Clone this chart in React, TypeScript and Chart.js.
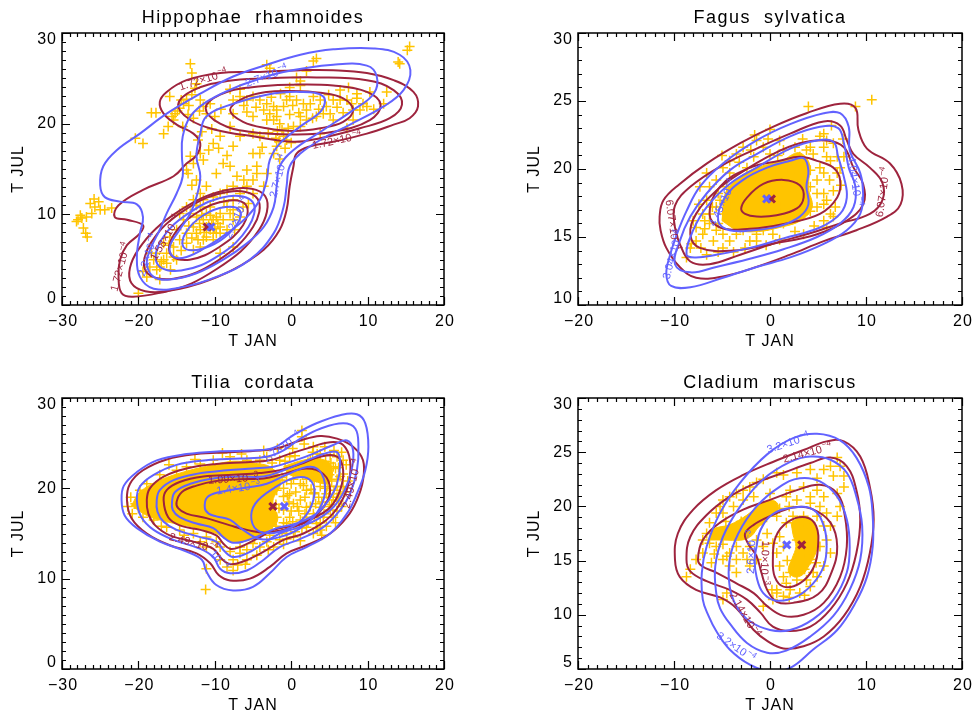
import { useEffect, useRef } from "react";
import { Chart, registerables } from "chart.js";

Chart.register(...registerables);

type Pt = [number, number];
type Tag = { text: string; exp: string; x: number; y: number; angle: number; blue: boolean };

const GOLD = "rgb(255,196,0)";
const BLUE = "rgb(98,98,255)";
const RED = "rgb(158,36,62)";
const FONT = "'Liberation Sans', 'DejaVu Sans', Arial, sans-serif";

// ---------------- Hippophae rhamnoides ----------------
const hippoObs: Pt[] = [
  [-27.9, 9.4], [-27.4, 9.6], [-26.8, 9.7], [-26.1, 10.1], [-25.7, 10.8], [-25.2, 11.4], [-25.0, 10.5], [-24.4, 10.5],
  [-23.5, 10.7], [-27.2, 8.5], [-26.9, 7.9], [-26.7, 7.5], [-26.3, 11.2], [-25.8, 11.7], [-27.6, 9.9], [-28.1, 9.2],
  [-20.4, 18.4], [-19.4, 17.8], [-18.3, 21.2], [-17.7, 21.2], [-15.9, 23.0], [-15.6, 20.8], [-15.2, 21.1], [-14.6, 21.7],
  [-14.1, 22.2], [-13.7, 22.7], [-13.0, 23.2], [-12.6, 23.9], [-12.4, 24.4], [-13.2, 26.6], [-13.0, 25.6], [-16.7, 18.9],
  [-16.1, 19.7], [-15.4, 20.4], [-14.2, 19.7], [-13.5, 21.0], [-11.5, 21.9], [-11.1, 21.1], [-11.9, 22.6], [-10.6, 22.2],
  [-11.7, 19.1], [-12.2, 18.2], [-13.2, 16.4], [-12.8, 15.6], [-11.9, 16.7], [-11.5, 16.0], [-10.8, 17.1], [-10.2, 17.8],
  [-9.3, 18.6], [-9.5, 17.3], [-8.4, 16.5], [-8.0, 15.3], [-7.6, 17.5], [-13.5, 14.5], [-12.4, 13.8], [-11.1, 13.1],
  [-9.8, 14.5], [-8.9, 15.6], [-13.7, 14.9], [-13.0, 13.2], [-14.9, 21.4], [-14.4, 22.6], [-13.4, 22.0], [-12.0, 21.4],
  [-12.8, 20.6], [-10.0, 20.8], [-9.2, 21.6], [-10.4, 19.4],
  [-7.6, 22.6], [-6.7, 23.0], [-5.8, 22.6], [-5.0, 23.0], [-4.1, 22.6], [-3.2, 22.2], [-2.3, 21.9], [-2.8, 21.1],
  [-1.9, 21.5], [-1.0, 21.9], [-0.6, 22.6], [-0.2, 23.0], [0.7, 22.6], [1.6, 22.2], [2.0, 21.5], [2.5, 22.2],
  [2.9, 23.0], [3.8, 22.6], [4.6, 21.9], [5.1, 21.1], [5.5, 22.6], [6.4, 22.6], [7.3, 22.6], [7.9, 22.2],
  [8.1, 21.5], [9.0, 21.5], [9.4, 22.2], [9.9, 21.9], [10.8, 21.6], [-2.3, 20.4], [-1.9, 20.8], [-1.5, 20.0],
  [-1.2, 19.3], [-1.0, 18.6], [-0.6, 18.2], [-1.6, 18.0], [-1.9, 17.5], [-0.8, 17.3], [-1.8, 19.2], [-3.2, 20.4],
  [-5.0, 18.9], [-4.1, 18.6], [-8.0, 19.7], [-6.7, 18.6], [-5.0, 16.7], [-4.1, 16.7], [-2.3, 16.7], [-1.5, 16.1],
  [2.0, 20.4], [3.3, 20.8], [4.2, 21.1], [5.5, 20.4], [7.3, 19.5], [8.1, 20.4], [1.2, 19.7], [0.3, 19.7],
  [-3.2, 26.5], [-2.8, 26.1], [0.7, 25.1], [1.2, 24.7], [2.0, 25.8], [2.9, 26.9], [3.3, 27.2], [-0.2, 24.0],
  [1.2, 24.2], [6.4, 23.7], [7.5, 24.0], [8.6, 23.3], [14.0, 26.8], [14.2, 26.6], [15.2, 28.1], [15.5, 28.5],
  [12.1, 22.2], [-8.0, 23.8], [-6.7, 23.8], [-5.0, 20.8], [-3.6, 21.5], [-5.8, 21.3], [-7.6, 21.1], [3.8, 18.9],
  [-0.2, 21.0], [1.2, 20.8], [12.5, 23.5], [10.3, 23.5], [-2.6, 22.9], [-1.4, 23.3], [0.2, 22.0], [1.0, 21.2],
  [2.8, 20.6], [3.6, 21.6], [4.9, 23.2], [6.0, 21.8], [6.8, 21.2], [8.6, 22.8], [-4.6, 21.8], [-6.2, 22.0],
  [-3.0, 19.0], [-2.0, 18.4], [0.0, 17.9], [-0.4, 19.5], [-3.8, 17.4],
  [-11.9, 10.8], [-11.1, 10.1], [-10.2, 9.4], [-9.3, 10.1], [-8.4, 10.8], [-7.6, 11.6], [-6.7, 12.3], [-5.8, 13.1],
  [-5.0, 13.8], [-4.5, 14.5], [-5.0, 12.3], [-6.3, 10.8], [-7.6, 9.4], [-8.4, 8.3], [-9.8, 7.9], [-11.1, 7.5],
  [-11.9, 8.3], [-12.8, 8.6], [-13.7, 7.9], [-14.6, 7.2], [-15.4, 6.4], [-16.3, 5.7], [-16.7, 5.0], [-17.2, 4.2],
  [-17.6, 3.9], [-16.3, 4.6], [-15.4, 5.3], [-13.7, 6.8], [-12.8, 6.1], [-11.9, 6.4], [-10.2, 7.2], [-9.3, 7.9],
  [-11.5, 9.4], [-10.6, 8.3], [-12.4, 9.7], [-13.2, 10.1], [-14.1, 9.4], [-15.0, 8.3], [-15.9, 7.5], [-16.7, 6.8],
  [-17.6, 5.7], [-18.0, 5.0], [-18.5, 4.2], [-19.4, 3.7], [-18.9, 3.1], [-20.0, 1.3], [-11.5, 11.6], [-10.2, 11.9],
  [-9.3, 12.3], [-8.4, 12.7], [-7.6, 13.1], [-7.1, 14.2], [-5.8, 14.9], [-4.5, 15.3], [-11.9, 12.3], [-12.8, 11.6],
  [-13.7, 10.8], [-14.6, 10.1], [-11.1, 8.6], [-10.2, 7.9], [-9.3, 8.6], [-8.0, 10.1], [-7.6, 10.5], [-12.4, 7.9],
  [-11.5, 7.2], [-13.0, 7.4], [-9.8, 9.7], [-8.9, 9.4], [-7.4, 8.3], [-6.7, 9.7], [-5.6, 11.2], [-3.6, 13.1],
  [-3.2, 14.5], [-9.3, 5.7], [-7.6, 6.4], [-15.0, 5.0], [-17.2, 2.8], [-18.3, 5.7], [-10.8, 8.8], [-10.4, 9.0],
  [-11.4, 8.0], [-10.0, 8.4], [-12.0, 9.0], [-9.6, 9.0], [-10.6, 9.9], [-11.7, 9.9], [-12.2, 7.2], [-13.4, 8.7],
  [-14.4, 6.0], [-16.0, 6.6], [-17.0, 4.8], [-15.8, 3.9], [-8.8, 11.4], [-10.6, 10.8], [-12.4, 11.0], [-6.2, 13.8],
];
const hippoDense: Pt[][] = [];
const hippoBlue: Pt[][] = [
  [[-25.0, 13.2], [-24.4, 11.9], [-22.4, 11.4], [-20.2, 11.1], [-19.4, 9.7], [-19.8, 7.9], [-20.2, 5.3], [-19.8, 3.1],
   [-18.0, 1.8], [-14.1, 2.0], [-9.8, 3.1], [-5.4, 5.0], [-2.3, 7.9], [-1.0, 10.8], [-0.6, 13.1], [-0.2, 15.3],
   [1.2, 16.7], [3.8, 18.2], [7.7, 19.9], [12.1, 21.9], [14.7, 23.7], [15.6, 25.9], [14.2, 27.6], [10.8, 28.3],
   [5.5, 28.2], [1.2, 27.6], [-3.2, 26.5], [-7.6, 25.2], [-11.9, 23.3], [-16.3, 21.1], [-19.8, 18.9], [-22.8, 17.1],
   [-24.6, 15.3]],
  [[-7.6, 23.9], [-5.4, 24.6], [-1.0, 25.7], [5.5, 26.5], [9.9, 26.4], [11.2, 25.2], [10.8, 23.3], [8.1, 21.5],
   [4.2, 19.3], [0.3, 17.1], [-1.5, 15.3], [-1.9, 13.1], [-2.3, 10.8], [-3.6, 8.6], [-5.8, 6.8], [-8.9, 5.0],
   [-12.4, 3.5], [-15.9, 2.8], [-18.0, 3.1], [-18.9, 4.6], [-18.3, 6.4], [-17.2, 8.3], [-16.3, 10.1], [-15.0, 12.3],
   [-14.2, 14.2], [-14.3, 16.4], [-14.2, 18.6], [-13.2, 20.8], [-11.1, 22.4]],
  [[-11.9, 18.9], [-11.1, 20.8], [-7.6, 22.2], [-3.2, 23.2], [1.2, 23.5], [4.2, 23.0], [4.0, 21.5], [1.2, 19.7],
   [-1.5, 17.8], [-2.8, 16.0], [-3.2, 13.8], [-4.1, 11.6], [-5.8, 9.7], [-8.4, 7.9], [-11.1, 6.4], [-13.7, 5.3],
   [-15.4, 5.3], [-15.9, 6.4], [-14.6, 8.3], [-13.2, 10.1], [-12.4, 11.9], [-11.9, 14.2], [-12.4, 16.4]],
  [[-6.7, 10.4], [-7.1, 8.9], [-9.3, 7.1], [-12.2, 6.1], [-14.1, 6.4], [-13.8, 8.0], [-11.5, 9.9], [-8.6, 10.8]],
  [[-5.0, 11.3], [-5.6, 8.6], [-9.4, 5.5], [-14.4, 3.8], [-17.5, 4.5], [-17.0, 7.2], [-13.1, 10.3], [-8.2, 12.0]],
];
const hippoRed: Pt[][] = [
  [[-17.2, 22.4], [-16.3, 23.5], [-13.7, 24.8], [-9.3, 25.6], [-4.1, 25.7], [1.2, 25.9], [5.5, 25.9], [9.9, 25.6],
   [13.4, 24.8], [16.0, 23.5], [16.6, 21.9], [15.5, 20.6], [13.4, 19.9], [9.9, 18.9], [5.5, 18.0], [2.5, 17.5],
   [0.7, 16.7], [0.3, 15.3], [-0.2, 13.1], [-0.6, 10.5], [-1.5, 8.3], [-3.6, 6.1], [-7.6, 3.9], [-11.9, 2.4],
   [-16.3, 1.5], [-20.7, 0.9], [-22.2, 1.3], [-22.6, 3.1], [-22.4, 5.0], [-21.5, 6.6], [-19.8, 7.9], [-19.4, 8.8],
   [-21.5, 9.4], [-23.1, 9.7], [-22.6, 11.0], [-19.4, 12.7], [-15.4, 14.2], [-13.7, 15.6], [-12.4, 16.5], [-11.9, 17.8],
   [-12.8, 18.9], [-15.0, 19.9], [-16.7, 21.1]],
  [[-14.8, 22.1], [-12.8, 23.7], [-8.4, 24.7], [-3.2, 25.0], [3.3, 25.1], [9.9, 24.8], [13.4, 23.7], [14.5, 22.1],
   [12.9, 20.6], [9.0, 19.5], [3.8, 18.4], [0.3, 18.0], [-5.0, 18.6], [-9.8, 19.3], [-13.2, 20.4]],
  [[-11.2, 21.7], [-9.3, 23.2], [-5.4, 24.0], [0.3, 24.3], [5.5, 24.2], [9.9, 23.5], [11.7, 22.1], [10.3, 20.4],
   [5.5, 19.1], [0.3, 18.8], [-5.4, 19.1], [-9.3, 20.0]],
  [[-8.0, 21.5], [-6.3, 22.8], [-3.2, 23.5], [0.3, 23.6], [3.8, 23.4], [6.8, 22.8], [8.1, 21.5], [6.8, 20.2],
   [3.8, 19.5], [0.3, 19.2], [-3.2, 19.5], [-6.3, 20.2]],
  [[-5.9, 11.0], [-6.3, 8.8], [-9.4, 6.4], [-13.3, 5.0], [-15.8, 5.6], [-15.4, 7.7], [-12.3, 10.2], [-8.4, 11.5]],
  [[-4.4, 11.7], [-5.0, 8.6], [-9.6, 4.9], [-15.4, 2.9], [-19.0, 3.7], [-18.4, 6.8], [-13.9, 10.5], [-8.1, 12.5]],
  [[-3.4, 12.0], [-4.2, 8.3], [-9.7, 4.0], [-16.6, 1.5], [-20.9, 2.4], [-20.1, 6.0], [-14.6, 10.4], [-7.7, 12.8]],
];
const hippoMeanBlue: Pt = [-10.5, 8.6];
const hippoMeanRed: Pt = [-11.0, 8.6];
const hippoTags: Tag[] = [
  { text: "1.72×10", exp: "−4", x: -11.5, y: 24.8, angle: -17, blue: false },
  { text: "2.7×10", exp: "−4", x: -3.2, y: 25.2, angle: -20, blue: true },
  { text: "1.72×10", exp: "−4", x: 6.0, y: 18.1, angle: -12, blue: false },
  { text: "1.72×10", exp: "−4", x: -22.3, y: 4.2, angle: -75, blue: false },
  { text: "2.2×10", exp: "−4", x: -18.7, y: 5.5, angle: -72, blue: true },
  { text: "1.58×10", exp: "−4", x: -16.4, y: 7.4, angle: -60, blue: false },
  { text: "2.7×10", exp: "−4", x: -1.6, y: 14.2, angle: -75, blue: true },
  { text: "2.2×10", exp: "−4", x: -7.1, y: 9.6, angle: -65, blue: true },
];

// ---------------- Fagus sylvatica ----------------
const fagusObs: Pt[] = [
  [4.0, 24.6], [8.9, 24.6], [10.6, 25.1], [-1.6, 22.5], [-1.4, 22.1], [-0.7, 21.6], [-2.8, 21.6], [-3.5, 21.1],
  [-4.2, 20.6], [-4.9, 20.1], [-4.2, 19.7], [-5.6, 19.2], [-6.3, 18.7], [-6.6, 17.7], [-7.0, 16.7], [-7.7, 15.7],
  [-8.3, 14.2], [-8.7, 13.5], [-8.2, 14.5], [-7.0, 15.2], [-6.3, 16.0], [-5.6, 15.5], [-4.9, 15.2], [-4.2, 14.7],
  [-3.5, 15.2], [-2.8, 15.5], [-2.1, 14.7], [-1.4, 15.2], [-0.7, 15.5], [0.0, 16.0], [0.7, 16.2], [1.4, 16.0],
  [2.1, 16.5], [2.8, 16.5], [3.5, 16.7], [4.2, 16.9], [4.9, 17.2], [5.6, 17.4], [5.9, 17.7], [6.3, 16.7],
  [5.6, 16.2], [4.9, 18.2], [4.2, 18.7], [4.9, 19.2], [5.6, 19.7], [5.2, 20.1], [4.5, 21.1], [3.8, 21.4],
  [3.1, 20.9], [2.1, 20.6], [1.4, 20.1], [0.7, 19.7], [5.2, 22.4], [5.6, 22.6], [5.9, 22.1], [6.6, 21.9],
  [5.9, 20.9], [6.3, 20.6], [7.0, 20.9], [7.0, 19.7], [2.1, 18.7], [2.8, 18.2], [1.4, 17.7], [-2.4, 20.1],
  [-1.7, 20.9], [0.0, 21.1], [-2.1, 18.7], [-2.8, 17.7], [-4.2, 17.2], [-4.9, 16.7], [-3.5, 16.7], [-3.1, 15.7],
  [1.0, 17.2], [2.1, 19.2], [3.1, 19.7], [4.2, 19.9], [1.7, 20.1], [-4.5, 18.7], [-5.2, 17.7], [-3.8, 17.9],
  [-6.3, 16.7], [-5.6, 17.2], [-7.7, 14.7], [7.7, 20.9], [7.3, 20.1], [0.0, 22.9], [1.0, 22.1], [1.4, 21.4],
  [-1.4, 14.7], [0.3, 15.2], [6.6, 16.5], [5.9, 15.7], [3.5, 15.2], [-5.9, 14.7], [-6.6, 13.7], [-4.9, 14.2],
  [-2.8, 16.2], [-1.4, 16.7], [4.2, 21.6], [5.6, 21.6], [-0.7, 20.1], [-6.6, 19.7], [-7.3, 18.7], [-1.4, 19.2],
  [3.8, 17.7], [5.6, 18.2], [-5.4, 18.2], [-6.0, 17.2], [-6.8, 16.2], [-5.4, 16.0], [-7.4, 17.4], [-3.2, 20.5],
  [-2.0, 21.4], [-0.2, 22.2], [0.8, 21.0], [2.6, 21.6], [3.4, 22.2], [6.2, 19.2], [6.6, 18.4], [7.4, 18.8],
  [4.6, 15.8], [2.6, 15.4], [1.0, 14.8], [-0.4, 14.4], [-2.6, 14.2], [-6.8, 15.6], [-7.2, 14.2], [-5.4, 13.9],
  [-3.8, 13.9], [-8.0, 16.2], [-5.0, 21.0], [6.8, 17.2], [7.6, 22.2], [6.4, 23.2],
];
const fagusDense: Pt[][] = [
  [[-5.0, 16.2], [-4.6, 18.3], [-2.8, 19.6], [-0.8, 20.2], [1.2, 20.6], [3.0, 21.2], [4.1, 20.4], [4.0, 18.6],
   [4.4, 17.2], [3.2, 16.2], [1.0, 15.7], [-1.2, 15.4], [-3.4, 15.5]],
];
const fagusBlue: Pt[][] = [
  [[-10.8, 12.3], [-10.4, 13.7], [-9.7, 15.2], [-8.7, 16.9], [-7.3, 18.7], [-4.9, 20.4], [-1.4, 22.1], [2.1, 23.3],
   [5.6, 24.1], [7.3, 24.1], [8.2, 23.1], [8.3, 21.4], [9.4, 19.7], [9.7, 18.2], [9.4, 16.7], [8.0, 15.5],
   [5.6, 14.5], [2.1, 13.5], [-1.4, 12.8], [-4.9, 12.0], [-8.3, 11.3], [-10.3, 11.4]],
  [[-9.9, 13.0], [-9.4, 14.7], [-8.3, 16.5], [-6.6, 18.2], [-4.2, 19.9], [-1.4, 21.1], [2.1, 22.4], [5.2, 23.1],
   [7.1, 23.0], [7.7, 21.9], [8.2, 20.1], [8.9, 18.7], [8.7, 17.2], [7.3, 16.0], [4.9, 15.0], [1.4, 14.1],
   [-2.1, 13.4], [-5.6, 12.8], [-8.3, 12.4]],
  [[-8.7, 13.7], [-8.0, 15.5], [-6.6, 17.2], [-4.2, 18.9], [-1.4, 20.1], [2.1, 21.5], [4.9, 22.1], [6.6, 22.0],
   [7.1, 20.9], [7.7, 19.4], [8.0, 17.9], [7.3, 16.7], [5.2, 15.7], [1.4, 14.9], [-2.1, 14.2], [-5.6, 13.7],
   [-7.7, 13.5]],
  [[-5.4, 16.2], [-4.7, 17.9], [-2.8, 19.2], [-0.3, 20.1], [2.1, 20.6], [3.5, 20.8], [4.0, 19.9], [3.8, 18.7],
   [4.0, 17.4], [3.1, 16.5], [1.0, 15.8], [-1.7, 15.5], [-4.2, 15.5]],
];
const fagusRed: Pt[][] = [
  [[-11.5, 16.5], [-11.1, 17.7], [-9.4, 18.9], [-6.6, 20.4], [-3.1, 21.9], [0.3, 23.1], [3.8, 24.1], [7.3, 24.8],
   [8.9, 24.5], [9.2, 22.9], [10.1, 21.5], [12.5, 20.4], [13.7, 18.9], [13.6, 17.4], [12.2, 16.5], [9.0, 15.5],
   [5.6, 14.7], [2.1, 13.7], [-1.4, 12.8], [-4.9, 12.1], [-7.7, 12.0], [-9.4, 12.8], [-10.8, 14.2], [-11.4, 15.5]],
  [[-9.9, 17.3], [-8.3, 18.7], [-4.9, 20.3], [-1.4, 21.5], [2.1, 22.6], [5.6, 23.5], [7.3, 23.2], [8.0, 22.1],
   [8.7, 21.1], [10.4, 20.1], [11.7, 19.0], [11.7, 17.7], [10.4, 16.7], [7.3, 16.0], [3.8, 15.2], [0.3, 14.5],
   [-3.1, 13.7], [-6.3, 13.0], [-8.3, 13.2], [-9.4, 14.5], [-9.9, 15.7]],
  [[-8.3, 15.2], [-7.7, 16.7], [-5.6, 18.4], [-3.1, 19.7], [0.3, 21.1], [3.1, 21.9], [5.9, 22.1], [7.7, 21.6],
   [8.7, 20.1], [9.7, 18.9], [9.7, 17.4], [8.0, 16.2], [4.9, 15.2], [0.3, 14.5], [-3.8, 14.0], [-7.3, 14.2]],
  [[-6.3, 16.7], [-5.2, 18.7], [-2.1, 20.1], [1.0, 20.6], [3.1, 20.9], [4.9, 20.6], [6.6, 20.1], [7.3, 19.2],
   [7.0, 17.9], [5.2, 16.7], [1.7, 16.0], [-2.1, 15.6], [-5.2, 15.7]],
  [[-3.0, 17.1], [-2.4, 17.9], [-0.7, 18.9], [1.4, 19.2], [3.1, 18.8], [3.5, 17.9], [2.8, 17.1], [0.7, 16.6],
   [-1.4, 16.5], [-2.6, 16.7]],
];
const fagusMeanBlue: Pt = [-0.35, 17.8];
const fagusMeanRed: Pt = [0.15, 17.8];
const fagusTags: Tag[] = [
  { text: "6.07×10", exp: "−4", x: -10.2, y: 15.9, angle: 82, blue: false },
  { text: "3.04×10", exp: "−4", x: -10.1, y: 13.7, angle: -75, blue: true },
  { text: "4.45×10", exp: "−4", x: -4.9, y: 17.5, angle: -65, blue: true },
  { text: "4.04×10", exp: "−4", x: 8.8, y: 19.1, angle: 82, blue: true },
  { text: "6.07×10", exp: "−4", x: 11.8, y: 18.3, angle: -82, blue: false },
];

// ---------------- Tilia cordata ----------------
const tiliaObs: Pt[] = [
  [1.4, 26.4], [1.4, 25.7], [2.9, 24.6], [3.8, 23.8], [5.1, 23.7], [6.0, 23.5], [6.8, 23.1], [5.5, 22.4],
  [4.6, 22.0], [3.8, 22.7], [2.5, 23.1], [1.2, 22.4], [0.3, 21.6], [-0.6, 20.9], [1.2, 20.5], [2.0, 19.8],
  [2.9, 19.4], [3.8, 20.2], [4.6, 19.4], [5.5, 18.7], [5.1, 17.6], [4.2, 16.8], [3.3, 16.1], [2.0, 15.7],
  [1.2, 16.5], [-0.2, 16.8], [-1.0, 17.6], [-1.9, 16.8], [-0.6, 16.1], [0.3, 18.3], [1.2, 18.7], [2.0, 17.9],
  [2.9, 17.2], [3.8, 17.9], [-0.2, 19.4], [-1.0, 19.1], [-1.9, 19.8], [-1.5, 20.9], [-2.3, 21.6], [6.4, 21.3],
  [6.8, 20.2], [6.0, 20.2], [6.4, 19.4], [-1.5, 23.1], [-0.2, 23.5], [-3.2, 23.5], [-4.1, 23.1], [-5.8, 23.1],
  [-8.0, 23.5], [-10.2, 23.1], [-11.9, 22.7], [-13.7, 22.4], [-15.0, 22.0], [-17.2, 21.5], [-18.9, 20.5], [-19.8, 19.8],
  [-20.4, 18.3], [-20.0, 17.8], [-19.4, 16.8], [-18.0, 16.5], [-16.3, 15.7], [-14.6, 15.4], [-12.8, 15.0], [-11.1, 14.6],
  [-9.8, 14.1], [-9.3, 13.5], [-8.0, 13.0], [-6.7, 13.5], [-5.0, 13.9], [-3.2, 14.1], [-1.5, 14.3], [0.3, 14.6],
  [-6.7, 12.8], [-5.8, 13.2], [-7.6, 12.1], [-8.4, 11.3], [-7.6, 10.9], [-11.1, 11.1], [-9.3, 12.1], [-11.1, 13.5],
  [-11.9, 14.1], [-11.2, 8.8], [-5.8, 12.1], [-4.1, 13.5], [-2.3, 13.5], [-0.6, 15.0], [2.9, 15.0], [3.8, 15.4],
  [5.5, 16.8], [-1.0, 20.0], [0.0, 20.5], [1.0, 21.8], [2.0, 21.0], [3.0, 20.8], [3.5, 22.5], [4.5, 23.0],
  [5.0, 21.5], [4.0, 18.5], [2.5, 18.0], [1.0, 17.5], [0.0, 17.5], [-1.0, 16.2], [-2.0, 15.8], [0.5, 15.2],
  [2.2, 16.2], [3.8, 16.2], [5.0, 18.0], [6.0, 19.0], [6.0, 17.5], [-2.0, 18.2], [-0.5, 19.2], [1.8, 19.0],
  [3.0, 19.5], [4.8, 20.2], [5.8, 22.2], [2.8, 24.0], [-2.5, 22.8], [0.5, 23.6], [-1.8, 24.4], [-21.4, 18.0],
  [-21.0, 19.0], [-20.8, 17.2], [-16.0, 22.6], [-9.0, 23.9], [-6.5, 23.8], [-12.6, 23.2], [-14.0, 14.8], [-17.0, 15.8],
  [-0.5, 22.0], [0.5, 22.3], [1.5, 21.5], [2.5, 21.9], [3.3, 21.2], [4.2, 22.3], [5.2, 22.8], [6.2, 22.3],
  [6.0, 21.0], [5.3, 20.8], [4.5, 20.0], [3.6, 19.0], [2.6, 19.9], [1.6, 20.3], [0.6, 19.6], [-0.3, 18.5],
  [0.8, 18.0], [1.8, 17.2], [3.0, 16.8], [4.3, 17.2], [5.3, 18.2], [6.2, 18.6], [5.8, 16.2], [4.6, 15.8],
  [3.4, 15.6], [1.4, 15.6], [0.2, 16.3], [-1.2, 15.2], [-2.5, 16.0], [-1.6, 17.8], [-1.2, 21.2], [0.3, 21.0],
  [2.2, 22.9], [3.4, 23.8], [4.4, 24.6], [5.6, 24.2], [1.7, 24.9], [-0.8, 23.0], [6.8, 21.6], [7.0, 19.6],
  [6.6, 18.0], [4.0, 14.8], [1.2, 14.2], [-1.0, 13.8], [-3.0, 13.2], [-4.5, 12.6], [-6.0, 11.6], [-7.0, 11.5],
  [4.9, 19.0], [5.6, 19.8], [3.2, 18.3], [2.0, 16.8], [-0.6, 14.4], [-2.8, 14.8], [-4.8, 14.4], [-6.4, 14.6],
  [7.4, 20.8], [7.2, 22.6], [6.6, 24.0], [0.2, 24.4], [-3.6, 24.2],
];
const tiliaDense: Pt[][] = [
  [[-20.9, 18.1], [-19.8, 19.6], [-17.2, 20.9], [-13.7, 21.9], [-10.2, 22.6], [-7.6, 23.0], [-5.0, 22.8], [-2.6, 22.3],
   [-1.4, 20.6], [-2.4, 18.6], [-1.8, 16.4], [-4.0, 14.8], [-7.6, 14.0], [-9.8, 15.0], [-12.8, 15.7], [-16.3, 16.3],
   [-18.9, 17.0]],
  [[-1.0, 22.4], [1.0, 23.0], [3.4, 23.3], [5.0, 22.8], [5.4, 21.5], [4.8, 20.5], [3.4, 20.7], [1.6, 21.2],
   [-0.2, 21.5]],
];
const tiliaBlue: Pt[][] = [
  [[-22.2, 18.7], [-21.9, 20.3], [-20.2, 21.8], [-17.6, 23.1], [-13.7, 23.8], [-9.3, 24.1], [-5.0, 24.2], [-2.3, 24.5],
   [0.3, 25.9], [3.3, 27.2], [6.4, 28.1], [8.6, 28.2], [9.7, 27.2], [10.1, 24.6], [9.7, 22.0], [8.6, 19.4],
   [7.3, 17.2], [5.1, 15.0], [2.0, 13.5], [-0.6, 12.4], [-2.8, 10.6], [-5.0, 9.1], [-7.6, 8.7], [-9.8, 9.3],
   [-11.1, 10.8], [-11.7, 12.1], [-13.7, 13.0], [-17.2, 14.1], [-20.2, 15.6], [-21.8, 17.0]],
  [[-20.2, 18.7], [-19.8, 20.2], [-18.0, 21.5], [-15.0, 22.6], [-11.1, 23.1], [-6.7, 23.3], [-3.2, 23.5], [-1.0, 24.2],
   [1.2, 25.5], [3.8, 26.6], [6.8, 27.2], [8.4, 26.6], [8.8, 24.6], [8.6, 22.0], [7.7, 19.4], [6.4, 17.6],
   [4.2, 15.7], [1.2, 14.4], [-1.5, 13.5], [-3.6, 12.1], [-5.8, 10.9], [-8.0, 10.6], [-9.3, 11.1], [-10.2, 12.4],
   [-11.9, 13.3], [-15.4, 14.3], [-18.0, 15.4], [-19.6, 16.8]],
  [[-17.6, 18.7], [-17.2, 19.8], [-15.4, 20.9], [-12.4, 21.6], [-8.4, 22.0], [-5.0, 22.2], [-2.3, 22.4], [-0.2, 22.9],
   [2.5, 23.7], [5.5, 24.8], [7.3, 25.3], [8.1, 24.2], [7.9, 22.0], [7.0, 19.8], [5.5, 17.9], [3.3, 16.5],
   [0.7, 15.6], [-1.5, 15.0], [-3.6, 13.9], [-5.8, 12.8], [-7.6, 12.4], [-8.7, 13.0], [-9.8, 14.1], [-11.9, 14.6],
   [-15.0, 15.4], [-16.7, 16.3], [-17.5, 17.4]],
  [[-15.6, 18.5], [-15.2, 19.6], [-13.2, 20.5], [-10.2, 21.1], [-6.7, 21.3], [-3.6, 21.3], [-1.0, 22.0], [1.6, 22.9],
   [4.2, 23.8], [6.0, 24.0], [6.4, 22.7], [6.0, 20.5], [4.9, 18.7], [3.3, 17.2], [0.7, 16.1], [-1.9, 15.6],
   [-4.1, 14.8], [-6.3, 14.1], [-7.8, 14.0], [-8.9, 14.6], [-10.2, 15.6], [-12.4, 16.1], [-14.6, 16.8], [-15.5, 17.6]],
  [[-11.3, 17.8], [-11.0, 19.0], [-9.3, 19.6], [-5.8, 20.1], [-3.2, 20.5], [-0.6, 21.5], [2.5, 22.4], [4.0, 21.6],
   [4.4, 19.4], [3.3, 17.2], [1.2, 15.6], [-1.5, 14.6], [-4.1, 14.4], [-6.3, 15.4], [-8.0, 16.5], [-9.8, 16.9],
   [-10.8, 17.2]],
  [[-5.2, 16.5], [-4.7, 18.3], [-2.3, 20.0], [0.7, 21.2], [2.7, 20.7], [2.9, 18.7], [1.4, 16.5], [-1.5, 15.2],
   [-4.1, 15.2]],
];
const tiliaRed: Pt[][] = [
  [[-21.5, 18.7], [-21.1, 20.5], [-19.4, 22.0], [-16.3, 23.2], [-12.4, 23.8], [-8.0, 24.0], [-4.1, 24.2], [-1.9, 24.4],
   [1.2, 25.3], [3.8, 25.8], [6.0, 25.5], [8.1, 24.6], [9.4, 23.1], [9.4, 20.9], [8.6, 18.7], [7.3, 16.8],
   [5.1, 15.0], [2.0, 13.7], [-0.6, 12.8], [-2.8, 11.3], [-5.4, 10.0], [-8.0, 9.8], [-9.5, 10.4], [-10.6, 11.7],
   [-12.4, 12.8], [-15.9, 13.7], [-18.9, 15.0], [-20.9, 16.7]],
  [[-18.9, 18.7], [-18.5, 20.0], [-16.7, 21.3], [-13.7, 22.2], [-9.8, 22.7], [-5.8, 22.9], [-2.8, 23.1], [-0.6, 23.7],
   [2.0, 24.4], [5.1, 25.1], [6.8, 24.8], [7.7, 23.1], [7.5, 20.5], [6.4, 18.3], [4.6, 16.5], [1.6, 15.0],
   [-1.0, 14.3], [-3.6, 13.0], [-6.3, 11.9], [-8.0, 11.6], [-9.1, 12.2], [-10.2, 13.3], [-12.8, 14.1], [-15.9, 14.8],
   [-17.8, 15.9], [-18.7, 17.2]],
  [[-16.7, 18.7], [-16.3, 19.8], [-14.6, 20.7], [-11.5, 21.3], [-7.6, 21.5], [-4.1, 21.7], [-1.5, 22.0], [1.2, 22.7],
   [3.8, 23.5], [6.0, 23.5], [6.8, 22.0], [6.4, 19.8], [5.1, 17.9], [2.9, 16.7], [0.3, 15.9], [-2.3, 15.4],
   [-4.5, 14.4], [-6.7, 13.5], [-8.0, 13.3], [-8.9, 13.9], [-9.8, 14.8], [-11.9, 15.4], [-14.6, 15.9], [-16.1, 16.8]],
  [[-15.0, 18.5], [-14.3, 19.6], [-12.4, 20.3], [-9.8, 20.8], [-6.7, 21.0], [-3.6, 21.1], [-1.0, 21.6], [2.0, 22.2],
   [4.2, 21.6], [5.1, 19.8], [4.2, 17.9], [2.5, 16.5], [-0.2, 15.6], [-3.2, 15.1], [-5.8, 15.4], [-8.0, 15.9],
   [-11.1, 16.7], [-13.7, 17.2], [-14.8, 17.8]],
];
const tiliaMeanBlue: Pt = [-0.9, 18.0];
const tiliaMeanRed: Pt = [-2.4, 18.0];
const tiliaTags: Tag[] = [
  { text: "1.7×10", exp: "−4", x: -1.2, y: 24.5, angle: -35, blue: true },
  { text: "1.99×10", exp: "−3", x: -7.6, y: 21.0, angle: -3, blue: false },
  { text: "1.4×10", exp: "−3", x: -6.9, y: 20.0, angle: -8, blue: true },
  { text: "2.49×10", exp: "−4", x: -12.8, y: 13.9, angle: 15, blue: false },
  { text: "10", exp: "−4", x: -9.5, y: 12.0, angle: 48, blue: true },
  { text: "2.49×10", exp: "−4", x: 8.0, y: 20.5, angle: -76, blue: false },
];

// ---------------- Cladium mariscus ----------------
const cladiumObs: Pt[] = [
  [7.0, 24.5], [6.3, 23.7], [5.6, 23.4], [7.7, 22.8], [6.6, 22.8], [4.9, 22.6], [4.2, 23.4], [2.8, 23.1],
  [1.4, 22.9], [0.7, 23.1], [-0.7, 22.5], [-1.4, 22.2], [-2.1, 21.8], [-2.8, 21.5], [-3.5, 21.2], [-4.2, 20.9],
  [-4.9, 20.6], [-5.2, 20.0], [-5.6, 19.4], [-4.9, 19.4], [-3.8, 20.0], [-2.8, 20.6], [-1.7, 20.9], [0.0, 21.2],
  [2.1, 21.5], [3.5, 21.8], [4.9, 21.5], [5.6, 20.9], [5.2, 20.0], [5.9, 19.4], [6.3, 18.2], [5.9, 16.9],
  [6.3, 15.7], [5.6, 14.5], [4.9, 13.5], [4.2, 12.6], [3.1, 12.0], [2.1, 12.3], [1.4, 11.7], [0.7, 12.0],
  [0.2, 12.3], [0.3, 11.4], [1.4, 13.5], [1.0, 14.5], [0.7, 15.7], [1.4, 16.3], [1.0, 17.2], [0.3, 16.6],
  [-0.7, 16.3], [-1.4, 16.9], [-0.3, 17.5], [-2.1, 16.3], [-2.8, 15.7], [-3.5, 16.3], [-4.2, 15.7], [-4.9, 16.5],
  [-5.6, 16.3], [-6.3, 16.6], [-6.6, 17.5], [-6.3, 18.5], [-7.0, 16.9], [-7.7, 15.1], [-8.3, 14.2], [-8.7, 13.5],
  [-7.0, 15.7], [-6.1, 14.8], [-4.9, 15.1], [-4.2, 14.5], [-4.5, 15.4], [-3.5, 15.1], [-2.4, 15.1], [-1.4, 15.1],
  [-2.1, 14.5], [-3.5, 13.9], [-4.9, 11.4], [-4.5, 12.0], [-0.7, 10.8], [0.7, 12.3], [1.7, 12.9], [2.8, 13.2],
  [3.8, 13.2], [4.5, 13.9], [4.2, 15.1], [3.5, 15.7], [3.1, 14.5], [2.1, 13.9], [2.8, 16.9], [3.8, 17.5],
  [4.2, 18.5], [3.5, 19.1], [2.4, 19.1], [1.7, 18.5], [0.7, 19.1], [4.9, 19.1], [5.6, 18.2], [5.2, 16.3],
  [7.0, 21.2], [7.3, 20.0], [7.0, 19.1], [7.7, 21.8], [7.3, 23.7], [4.2, 20.3], [2.8, 20.6], [1.7, 20.9],
  [4.2, 20.9], [-1.0, 19.8], [-0.2, 20.0], [-2.0, 19.0], [-3.0, 18.6], [-0.8, 18.6], [1.0, 19.8], [2.0, 20.0],
  [3.0, 18.2], [4.6, 16.6], [4.8, 14.8], [3.6, 14.2], [1.8, 15.0], [2.0, 11.6], [3.6, 11.8], [-3.6, 17.4],
  [-5.2, 17.6], [-4.6, 18.6], [-5.8, 15.6],
];
const cladiumDense: Pt[][] = [
  [[-6.4, 16.9], [-5.9, 17.9], [-4.2, 18.3], [-2.4, 19.2], [-0.8, 20.3], [0.5, 20.5], [0.9, 19.8], [0.0, 19.0],
   [-1.2, 18.1], [-1.9, 17.3], [-2.9, 16.9], [-4.9, 16.9]],
  [[2.2, 18.5], [3.1, 19.0], [4.3, 18.8], [5.0, 17.4], [4.8, 15.8], [4.1, 14.6], [3.4, 13.7], [2.5, 13.5],
   [1.9, 14.1], [2.3, 15.2], [2.7, 16.3], [2.4, 17.4]],
];
const cladiumBlue: Pt[][] = [
  [[-7.0, 11.4], [-7.1, 13.9], [-6.6, 16.3], [-5.2, 19.4], [-3.1, 22.2], [-0.3, 24.8], [2.4, 26.3], [4.9, 26.7],
   [7.3, 26.1], [9.0, 24.5], [10.3, 21.8], [10.7, 19.1], [10.7, 16.3], [10.1, 13.5], [8.9, 11.1], [7.0, 8.6],
   [4.5, 6.8], [2.1, 5.1], [0.0, 4.8], [-2.1, 5.4], [-4.2, 6.8], [-5.6, 8.5], [-6.4, 9.9]],
  [[-5.6, 12.0], [-5.7, 14.5], [-4.9, 17.2], [-3.1, 20.0], [-0.7, 22.5], [2.1, 24.1], [4.2, 24.6], [6.3, 24.3],
   [8.0, 23.1], [9.0, 20.9], [9.6, 18.2], [9.4, 15.1], [8.3, 12.3], [6.6, 9.9], [4.2, 8.0], [1.7, 6.7],
   [-0.3, 6.5], [-2.4, 7.4], [-4.2, 9.2], [-5.2, 10.6]],
  [[-4.2, 12.6], [-4.2, 15.1], [-3.3, 17.5], [-1.4, 20.0], [1.0, 21.8], [3.1, 22.6], [5.2, 22.3], [7.0, 20.9],
   [8.0, 18.8], [8.3, 16.3], [8.0, 13.9], [6.6, 11.4], [4.5, 9.6], [2.1, 8.6], [0.0, 8.6], [-2.1, 9.4],
   [-3.5, 10.8]],
  [[-1.4, 16.3], [-1.0, 17.8], [0.3, 19.3], [2.4, 19.9], [4.5, 19.7], [5.6, 18.2], [5.9, 16.3], [5.6, 14.5],
   [4.5, 12.9], [2.8, 11.7], [0.7, 11.3], [-0.7, 12.0], [-1.4, 13.5], [-1.6, 15.1]],
];
const cladiumRed: Pt[][] = [
  [[-9.9, 15.1], [-9.6, 17.5], [-8.0, 19.7], [-5.6, 21.5], [-2.8, 22.9], [0.3, 24.1], [3.5, 25.2], [5.9, 26.0],
   [7.7, 26.0], [9.4, 24.6], [10.4, 21.8], [10.8, 18.8], [10.4, 15.7], [9.4, 12.6], [7.7, 9.9], [5.6, 8.0],
   [3.5, 7.1], [1.4, 6.9], [-0.3, 7.6], [-1.7, 8.6], [-3.5, 10.6], [-5.2, 11.6], [-7.7, 12.3], [-9.4, 13.5]],
  [[-8.7, 15.1], [-8.3, 17.2], [-6.6, 19.2], [-4.2, 20.9], [-1.4, 22.2], [1.4, 23.1], [4.2, 24.0], [6.3, 24.5],
   [8.0, 23.7], [9.0, 21.5], [9.4, 18.8], [9.0, 15.7], [8.0, 12.9], [6.3, 10.5], [4.2, 8.9], [2.1, 8.5],
   [0.3, 8.9], [-1.0, 10.2], [-2.4, 11.4], [-4.2, 12.3], [-6.6, 13.1], [-8.3, 14.0]],
  [[-7.5, 15.1], [-7.0, 16.9], [-5.2, 18.5], [-2.8, 19.7], [0.0, 20.6], [2.8, 21.5], [5.2, 22.0], [7.0, 21.2],
   [7.8, 19.1], [8.0, 16.3], [7.3, 13.5], [5.6, 11.1], [3.5, 10.0], [1.4, 9.9], [-0.3, 10.8], [-1.7, 12.0],
   [-3.5, 12.9], [-5.6, 13.9], [-7.1, 14.5]],
  [[-2.6, 17.5], [-1.7, 18.3], [0.0, 19.1], [2.4, 19.9], [4.3, 19.8], [6.3, 18.5], [7.0, 16.3], [6.4, 13.9],
   [5.0, 11.9], [2.4, 11.1], [0.7, 11.2], [-0.3, 12.3], [-0.9, 13.9], [-1.4, 15.4], [-2.3, 16.6]],
  [[0.3, 15.1], [0.6, 17.2], [1.9, 18.6], [3.7, 19.0], [4.8, 18.2], [5.0, 16.3], [4.5, 14.3], [3.1, 12.9],
   [1.4, 12.6], [0.5, 13.5]],
];
const cladiumMeanBlue: Pt = [1.75, 16.45];
const cladiumMeanRed: Pt = [3.3, 16.45];
const cladiumTags: Tag[] = [
  { text: "3.2×10", exp: "−4", x: 1.9, y: 25.8, angle: -18, blue: true },
  { text: "2.14×10", exp: "−4", x: 3.9, y: 24.9, angle: -15, blue: false },
  { text: "2.6×10", exp: "−3", x: -1.9, y: 15.8, angle: -88, blue: true },
  { text: "1.0×10", exp: "−3", x: -0.6, y: 14.8, angle: 92, blue: false },
  { text: "2.14×10", exp: "−4", x: -2.7, y: 10.0, angle: 60, blue: false },
  { text: "3.2×10", exp: "−4", x: -3.6, y: 7.0, angle: 35, blue: true },
];

type Panel = {
  title: string;
  obs: Pt[];
  dense: Pt[][];
  blue: Pt[][];
  red: Pt[][];
  meanBlue: Pt;
  meanRed: Pt;
  tags: Tag[];
  xr: [number, number];
  yr: [number, number];
  yMajor: number;
  left: number;
  top: number;
  w: number;
  h: number;
  pad: { left: number; top: number; right: number; bottom: number };
};

const panels: Panel[] = [
  {
    title: "Hippophae  rhamnoides", obs: hippoObs, dense: hippoDense, blue: hippoBlue, red: hippoRed,
    meanBlue: hippoMeanBlue, meanRed: hippoMeanRed, tags: hippoTags, xr: [-30, 20], yr: [0, 30], yMajor: 10,
    left: 0, top: 0, w: 486, h: 357, pad: { left: 62, top: 33, right: 42, bottom: 52 },
  },
  {
    title: "Fagus  sylvatica", obs: fagusObs, dense: fagusDense, blue: fagusBlue, red: fagusRed,
    meanBlue: fagusMeanBlue, meanRed: fagusMeanRed, tags: fagusTags, xr: [-20, 20], yr: [10, 30], yMajor: 5,
    left: 486, top: 0, w: 487, h: 357, pad: { left: 92, top: 33, right: 11, bottom: 52 },
  },
  {
    title: "Tilia  cordata", obs: tiliaObs, dense: tiliaDense, blue: tiliaBlue, red: tiliaRed,
    meanBlue: tiliaMeanBlue, meanRed: tiliaMeanRed, tags: tiliaTags, xr: [-30, 20], yr: [0, 30], yMajor: 10,
    left: 0, top: 357, w: 486, h: 358, pad: { left: 62, top: 41, right: 42, bottom: 46 },
  },
  {
    title: "Cladium  mariscus", obs: cladiumObs, dense: cladiumDense, blue: cladiumBlue, red: cladiumRed,
    meanBlue: cladiumMeanBlue, meanRed: cladiumMeanRed, tags: cladiumTags, xr: [-20, 20], yr: [5, 30], yMajor: 5,
    left: 486, top: 357, w: 487, h: 358, pad: { left: 92, top: 41, right: 11, bottom: 46 },
  },
];

const toXY = (pts: Pt[]) => pts.map(([x, y]) => ({ x, y }));

// closed contour: wrap neighbours on both ends so the spline is smooth at the seam,
// and hide the two padding segments
function contourDataset(pts: Pt[], color: string) {
  const data = toXY([pts[pts.length - 1], ...pts, pts[0], pts[1]]);
  const last = data.length - 1;
  return {
    type: "line" as const,
    data,
    borderColor: color,
    borderWidth: 2,
    pointRadius: 0,
    tension: 0.4,
    fill: false,
    order: 2,
    segment: {
      borderColor: (c: any) => (c.p0DataIndex === 0 || c.p1DataIndex === last ? "rgba(0,0,0,0)" : undefined),
    },
  };
}

function denseDataset(pts: Pt[]) {
  return {
    type: "line" as const,
    data: toXY([...pts, pts[0]]),
    borderColor: GOLD,
    backgroundColor: GOLD,
    borderWidth: 1,
    pointRadius: 0,
    tension: 0.35,
    fill: "shape",
    order: 4,
  };
}

function fmt(v: number) {
  return v < 0 ? "\u2212" + Math.abs(v) : String(v);
}

function drawTag(ctx: CanvasRenderingContext2D, t: Tag, px: number, py: number) {
  ctx.save();
  ctx.translate(px, py);
  ctx.rotate((t.angle * Math.PI) / 180);
  ctx.letterSpacing = "0px";
  ctx.font = `11px ${FONT}`;
  const w1 = ctx.measureText(t.text).width;
  ctx.font = `8px ${FONT}`;
  const w2 = ctx.measureText(t.exp).width;
  const x0 = -(w1 + w2 + 1) / 2;
  ctx.fillStyle = t.blue ? BLUE : RED;
  ctx.textAlign = "left";
  ctx.textBaseline = "middle";
  ctx.font = `11px ${FONT}`;
  ctx.fillText(t.text, x0, 0);
  ctx.font = `8px ${FONT}`;
  ctx.fillText(t.exp, x0 + w1 + 1, -4);
  ctx.restore();
}

function framePlugin(p: Panel) {
  return {
    id: "idlFrame",
    afterDatasetsDraw(chart: any) {
      const { ctx, chartArea: a } = chart;
      const sx = chart.scales.x;
      const sy = chart.scales.y;
      ctx.save();
      for (const t of p.tags) drawTag(ctx, t, sx.getPixelForValue(t.x), sy.getPixelForValue(t.y));

      // inward ticks on all four sides
      ctx.strokeStyle = "#000";
      ctx.lineWidth = 1.2;
      ctx.beginPath();
      for (let v = p.xr[0]; v <= p.xr[1]; v++) {
        const px = Math.round(sx.getPixelForValue(v)) + 0.5;
        const len = (v - p.xr[0]) % 10 === 0 ? 8 : 4;
        ctx.moveTo(px, a.bottom);
        ctx.lineTo(px, a.bottom - len);
        ctx.moveTo(px, a.top);
        ctx.lineTo(px, a.top + len);
      }
      for (let v = p.yr[0]; v <= p.yr[1]; v++) {
        const py = Math.round(sy.getPixelForValue(v)) + 0.5;
        const len = (v - p.yr[0]) % p.yMajor === 0 ? 8 : 4;
        ctx.moveTo(a.left, py);
        ctx.lineTo(a.left + len, py);
        ctx.moveTo(a.right, py);
        ctx.lineTo(a.right - len, py);
      }
      ctx.stroke();
      ctx.lineWidth = 1.5;
      ctx.strokeRect(a.left, a.top, a.right - a.left, a.bottom - a.top);

      // tick labels
      ctx.fillStyle = "#000";
      ctx.font = `16px ${FONT}`;
      ctx.letterSpacing = "1px";
      ctx.textAlign = "center";
      ctx.textBaseline = "top";
      for (let v = p.xr[0]; v <= p.xr[1]; v += 10) {
        ctx.fillText(fmt(v), sx.getPixelForValue(v) + 1, a.bottom + 9);
      }
      ctx.textAlign = "right";
      ctx.textBaseline = "middle";
      for (let v = p.yr[0]; v <= p.yr[1]; v += p.yMajor) {
        const py = Math.min(Math.max(sy.getPixelForValue(v), a.top + 7), a.bottom - 6);
        ctx.fillText(fmt(v), a.left - 5, py);
      }

      // axis titles and panel title
      const cx = (a.left + a.right) / 2;
      const cy = (a.top + a.bottom) / 2;
      ctx.textAlign = "center";
      ctx.font = `16px ${FONT}`;
      ctx.letterSpacing = "1px";
      ctx.fillText("T JAN", cx, a.bottom + 37);
      ctx.save();
      ctx.translate(a.left - 43, cy);
      ctx.rotate(-Math.PI / 2);
      ctx.fillText("T JUL", 0, 0);
      ctx.restore();
      ctx.font = `18px ${FONT}`;
      ctx.letterSpacing = "1.5px";
      ctx.fillText(p.title, cx, a.top - 15);
      ctx.restore();
    },
  };
}

function PanelChart({ p }: { p: Panel }) {
  const ref = useRef<HTMLCanvasElement>(null);
  useEffect(() => {
    const canvas = ref.current;
    if (!canvas) return;
    const datasets: any[] = [
      ...p.dense.map((d) => denseDataset(d)),
      {
        type: "scatter",
        data: toXY(p.obs),
        pointStyle: "cross",
        pointRadius: 5,
        pointBorderColor: GOLD,
        pointBackgroundColor: GOLD,
        pointBorderWidth: 1.5,
        order: 3,
      },
      ...p.blue.map((c) => contourDataset(c, BLUE)),
      ...p.red.map((c) => contourDataset(c, RED)),
      {
        type: "scatter",
        data: toXY([p.meanRed]),
        pointStyle: "crossRot",
        pointRadius: 5,
        pointBorderColor: RED,
        pointBorderWidth: 3,
        order: 1,
      },
      {
        type: "scatter",
        data: toXY([p.meanBlue]),
        pointStyle: "crossRot",
        pointRadius: 5,
        pointBorderColor: BLUE,
        pointBorderWidth: 3,
        order: 0,
      },
    ];
    const chart = new Chart(canvas, {
      type: "scatter",
      data: { datasets },
      options: {
        responsive: false,
        animation: false,
        devicePixelRatio: 1,
        events: [],
        layout: { padding: p.pad },
        elements: { line: { capBezierPoints: false } },
        scales: {
          x: { type: "linear", min: p.xr[0], max: p.xr[1], display: false },
          y: { type: "linear", min: p.yr[0], max: p.yr[1], display: false },
        },
        plugins: {
          legend: { display: false },
          tooltip: { enabled: false },
          title: { display: false },
        },
      },
      plugins: [framePlugin(p)],
    } as any);
    return () => chart.destroy();
  }, [p]);
  return (
    <canvas
      ref={ref}
      width={p.w}
      height={p.h}
      style={{ position: "absolute", left: p.left, top: p.top, width: p.w, height: p.h }}
    />
  );
}

export default function App() {
  return (
    <div style={{ position: "absolute", left: 0, top: 0, width: 973, height: 715, background: "#fff", overflow: "hidden" }}>
      {panels.map((p) => (
        <PanelChart key={p.title} p={p} />
      ))}
    </div>
  );
}
